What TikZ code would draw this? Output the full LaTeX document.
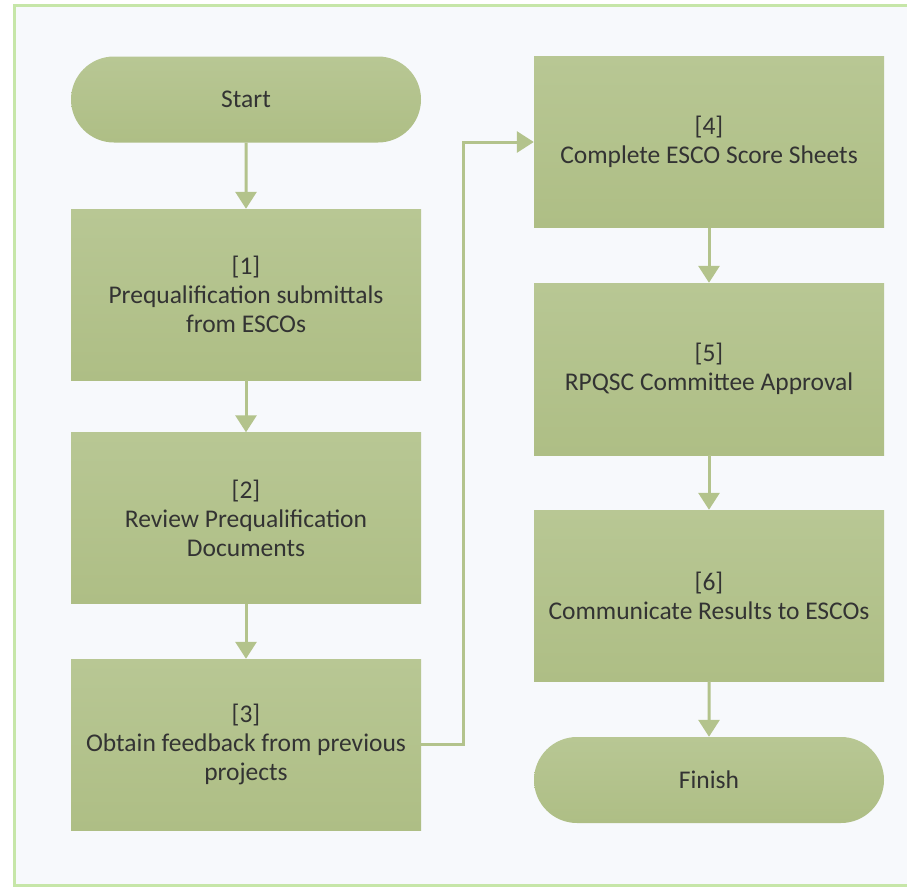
\documentclass[tikz,border=0pt]{standalone}
\usepackage{fontspec}
\setmainfont{Carlito}
\usetikzlibrary{arrows.meta,shapes.misc}
\definecolor{boxtop}{HTML}{B8C794}
\definecolor{boxbot}{HTML}{AEBE85}
\definecolor{linec}{HTML}{B3C38C}
\definecolor{frame}{HTML}{C6E6A8}
\definecolor{bg}{HTML}{F7F9FC}
\definecolor{txt}{HTML}{333333}
\tikzset{
  x=1pt,y=1pt,
  procbox/.style={rectangle, minimum width=350pt, minimum height=171pt, top color=boxtop, bottom color=boxbot, draw=none, align=center, text=txt, font=\fontsize{25.5}{29}\selectfont, inner sep=0pt},
  termbox/.style={rounded rectangle, minimum width=350pt, minimum height=86pt, top color=boxtop, bottom color=boxbot, draw=none, align=center, text=txt, font=\fontsize{25.5}{29}\selectfont, inner sep=0pt},
  flow/.style={draw=linec, line width=3pt, -{Triangle[width=21pt,length=17pt]}}
}
\begin{document}
\begin{tikzpicture}
\useasboundingbox (0,0) rectangle (907,-886);
\begin{scope}
\clip (0,0) rectangle (907,-886);
\fill[white] (0,0) rectangle (907,-886);
\draw[frame, line width=3pt, fill=bg] (14.5,-5.5) rectangle (925,-885);
\end{scope}
\node[termbox] (start) at (246,-99.5) {Start};
\node[procbox] (b1) at (246,-294.5) {[1]\\Prequalification submittals\\from ESCOs};
\node[procbox] (b2) at (246,-518) {[2]\\Review Prequalification\\Documents};
\node[procbox] (b3) at (246,-744.5) {[3]\\Obtain feedback from previous\\projects};
\node[procbox] (b4) at (709,-142) {[4]\\Complete ESCO Score Sheets};
\node[procbox, minimum height=172pt] (b5) at (709,-369) {[5]\\RPQSC Committee Approval};
\node[procbox] (b6) at (709,-595.5) {[6]\\Communicate Results to ESCOs};
\node[termbox] (finish) at (709,-780) {Finish};
\draw[flow] (start) -- (b1);
\draw[flow] (b1) -- (b2);
\draw[flow] (b2) -- (b3);
\draw[flow] (b3.east) -- ++(42,0) |- (b4.west);
\draw[flow] (b4) -- (b5);
\draw[flow] (b5) -- (b6);
\draw[flow] (b6) -- (finish);
\end{tikzpicture}
\end{document}
